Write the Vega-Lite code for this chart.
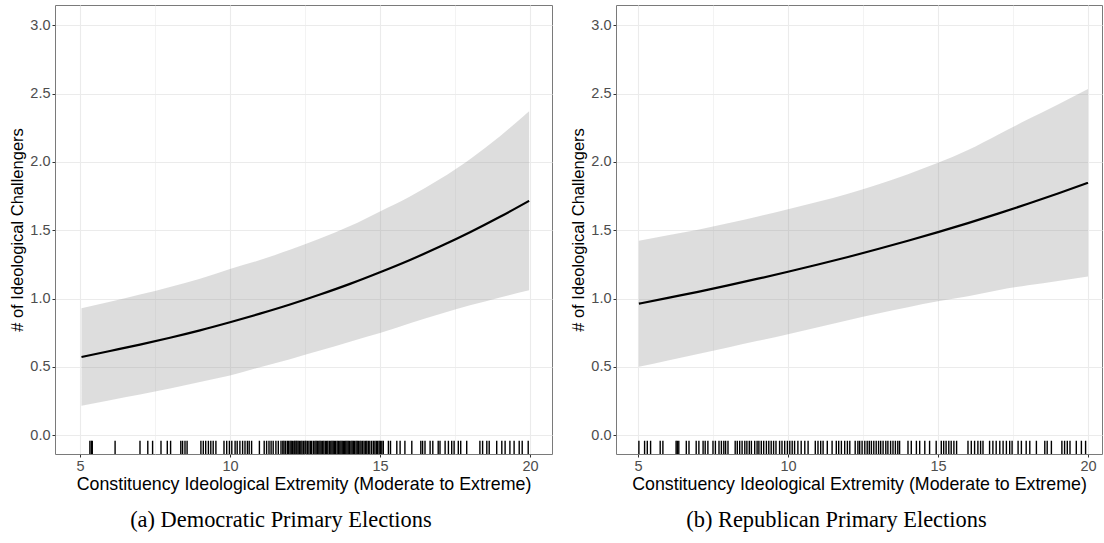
{
  "$schema": "https://vega.github.io/schema/vega-lite/v6.json",
  "padding": {"left": 9, "top": 4, "right": 0, "bottom": 0},
  "spacing": 17,
  "datasets": {
    "dem_fit": [
      {"x": 5.05, "m": 0.573, "lo": 0.217, "hi": 0.930},
      {"x": 6, "m": 0.617, "lo": 0.257, "hi": 0.977},
      {"x": 7, "m": 0.664, "lo": 0.298, "hi": 1.030},
      {"x": 8, "m": 0.714, "lo": 0.342, "hi": 1.086},
      {"x": 9, "m": 0.768, "lo": 0.390, "hi": 1.146},
      {"x": 10, "m": 0.827, "lo": 0.437, "hi": 1.217},
      {"x": 11, "m": 0.890, "lo": 0.498, "hi": 1.282},
      {"x": 12, "m": 0.957, "lo": 0.557, "hi": 1.357},
      {"x": 13, "m": 1.030, "lo": 0.620, "hi": 1.440},
      {"x": 14, "m": 1.108, "lo": 0.685, "hi": 1.531},
      {"x": 15, "m": 1.193, "lo": 0.748, "hi": 1.638},
      {"x": 16, "m": 1.283, "lo": 0.819, "hi": 1.747},
      {"x": 17, "m": 1.381, "lo": 0.887, "hi": 1.875},
      {"x": 18, "m": 1.486, "lo": 0.951, "hi": 2.021},
      {"x": 19, "m": 1.599, "lo": 1.009, "hi": 2.189},
      {"x": 19.97, "m": 1.716, "lo": 1.062, "hi": 2.372}
    ],
    "rep_fit": [
      {"x": 5.03, "m": 0.963, "lo": 0.502, "hi": 1.424},
      {"x": 6, "m": 1.006, "lo": 0.548, "hi": 1.464},
      {"x": 7, "m": 1.050, "lo": 0.595, "hi": 1.505},
      {"x": 8, "m": 1.097, "lo": 0.642, "hi": 1.552},
      {"x": 9, "m": 1.146, "lo": 0.691, "hi": 1.601},
      {"x": 10, "m": 1.197, "lo": 0.740, "hi": 1.654},
      {"x": 11, "m": 1.250, "lo": 0.791, "hi": 1.709},
      {"x": 12, "m": 1.305, "lo": 0.842, "hi": 1.768},
      {"x": 13, "m": 1.363, "lo": 0.891, "hi": 1.835},
      {"x": 14, "m": 1.424, "lo": 0.937, "hi": 1.911},
      {"x": 15, "m": 1.487, "lo": 0.980, "hi": 1.994},
      {"x": 16, "m": 1.553, "lo": 1.018, "hi": 2.088},
      {"x": 17, "m": 1.622, "lo": 1.062, "hi": 2.200},
      {"x": 18, "m": 1.694, "lo": 1.098, "hi": 2.312},
      {"x": 19, "m": 1.769, "lo": 1.130, "hi": 2.420},
      {"x": 20, "m": 1.848, "lo": 1.162, "hi": 2.534}
    ],
    "dem_rug": [
      {"x": 5.33}, {"x": 5.38}, {"x": 5.41}, {"x": 6.17}, {"x": 7.00}, {"x": 7.26}, {"x": 7.42}, {"x": 7.70}, {"x": 7.91}, {"x": 8.02},
      {"x": 8.36}, {"x": 8.42}, {"x": 8.50}, {"x": 8.57}, {"x": 9.03}, {"x": 9.11}, {"x": 9.19}, {"x": 9.28}, {"x": 9.36},
      {"x": 9.44}, {"x": 9.53}, {"x": 9.80}, {"x": 9.89}, {"x": 9.98}, {"x": 10.06}, {"x": 10.17}, {"x": 10.24}, {"x": 10.33},
      {"x": 10.42}, {"x": 10.50}, {"x": 10.58}, {"x": 10.64}, {"x": 10.72}, {"x": 10.98}, {"x": 11.14}, {"x": 11.22},
      {"x": 11.30}, {"x": 11.37}, {"x": 11.44}, {"x": 11.53}, {"x": 11.61},
      {"x": 11.70}, {"x": 11.76}, {"x": 11.80}, {"x": 11.85}, {"x": 11.91}, {"x": 11.95}, {"x": 12.00}, {"x": 12.04},
      {"x": 12.08}, {"x": 12.13}, {"x": 12.16}, {"x": 12.20}, {"x": 12.23}, {"x": 12.27}, {"x": 12.31}, {"x": 12.36},
      {"x": 12.40}, {"x": 12.45}, {"x": 12.50}, {"x": 12.53}, {"x": 12.58}, {"x": 12.63}, {"x": 12.68}, {"x": 12.72},
      {"x": 12.78}, {"x": 12.83}, {"x": 12.87}, {"x": 12.91}, {"x": 12.96}, {"x": 13.00}, {"x": 13.04}, {"x": 13.09},
      {"x": 13.13}, {"x": 13.18}, {"x": 13.22}, {"x": 13.26}, {"x": 13.31}, {"x": 13.36}, {"x": 13.40}, {"x": 13.44},
      {"x": 13.48}, {"x": 13.52}, {"x": 13.57}, {"x": 13.61}, {"x": 13.66}, {"x": 13.70}, {"x": 13.74}, {"x": 13.78},
      {"x": 13.82}, {"x": 13.86}, {"x": 13.90}, {"x": 13.94}, {"x": 13.98}, {"x": 14.03}, {"x": 14.07}, {"x": 14.11},
      {"x": 14.15}, {"x": 14.20}, {"x": 14.24}, {"x": 14.28}, {"x": 14.33}, {"x": 14.37}, {"x": 14.42}, {"x": 14.47},
      {"x": 14.52}, {"x": 14.56}, {"x": 14.61}, {"x": 14.66}, {"x": 14.72}, {"x": 14.78}, {"x": 14.83}, {"x": 14.88},
      {"x": 14.92}, {"x": 14.97}, {"x": 15.01}, {"x": 15.06}, {"x": 15.11},
      {"x": 15.28}, {"x": 15.35}, {"x": 15.56}, {"x": 15.67}, {"x": 15.83}, {"x": 16.06}, {"x": 16.36}, {"x": 16.42},
      {"x": 16.50}, {"x": 16.67}, {"x": 16.76}, {"x": 16.94}, {"x": 17.00}, {"x": 17.17}, {"x": 17.28}, {"x": 17.39},
      {"x": 17.47}, {"x": 17.61}, {"x": 17.69}, {"x": 17.89}, {"x": 18.33}, {"x": 18.42}, {"x": 18.56}, {"x": 18.64},
      {"x": 18.89}, {"x": 19.06}, {"x": 19.17}, {"x": 19.33}, {"x": 19.47}, {"x": 19.64}, {"x": 19.74}, {"x": 19.94}
    ],
    "rep_rug": [
      {"x": 5.03}, {"x": 5.22}, {"x": 5.31}, {"x": 5.42}, {"x": 5.74}, {"x": 5.83}, {"x": 6.27}, {"x": 6.31}, {"x": 6.36},
      {"x": 6.61}, {"x": 6.70}, {"x": 6.94}, {"x": 7.03}, {"x": 7.17}, {"x": 7.24}, {"x": 7.33}, {"x": 7.50}, {"x": 7.58},
      {"x": 7.70}, {"x": 7.78}, {"x": 7.86}, {"x": 7.92}, {"x": 8.00}, {"x": 8.24}, {"x": 8.31}, {"x": 8.39}, {"x": 8.47},
      {"x": 8.56}, {"x": 8.63}, {"x": 8.71}, {"x": 8.78}, {"x": 8.89}, {"x": 8.97}, {"x": 9.03}, {"x": 9.11}, {"x": 9.19},
      {"x": 9.28}, {"x": 9.36}, {"x": 9.44}, {"x": 9.52}, {"x": 9.60}, {"x": 9.72}, {"x": 9.80}, {"x": 9.89}, {"x": 9.98},
      {"x": 10.06}, {"x": 10.14}, {"x": 10.22}, {"x": 10.33}, {"x": 10.44}, {"x": 10.56}, {"x": 10.67}, {"x": 10.91},
      {"x": 11.00}, {"x": 11.09}, {"x": 11.17}, {"x": 11.31}, {"x": 11.47}, {"x": 11.61}, {"x": 11.69}, {"x": 11.78},
      {"x": 11.89}, {"x": 11.98}, {"x": 12.06}, {"x": 12.24}, {"x": 12.33}, {"x": 12.39}, {"x": 12.47}, {"x": 12.56},
      {"x": 12.64}, {"x": 12.71}, {"x": 12.78}, {"x": 12.86}, {"x": 12.94}, {"x": 13.02}, {"x": 13.09}, {"x": 13.17},
      {"x": 13.26}, {"x": 13.33}, {"x": 13.42}, {"x": 13.50}, {"x": 13.58}, {"x": 13.66}, {"x": 13.72}, {"x": 14.00},
      {"x": 14.11}, {"x": 14.28}, {"x": 14.39}, {"x": 14.56}, {"x": 14.72}, {"x": 14.94}, {"x": 15.11}, {"x": 15.19},
      {"x": 15.27}, {"x": 15.36}, {"x": 15.44}, {"x": 15.53}, {"x": 15.62}, {"x": 16.00}, {"x": 16.11}, {"x": 16.22},
      {"x": 16.33}, {"x": 16.42}, {"x": 16.50}, {"x": 16.72}, {"x": 16.83}, {"x": 16.94}, {"x": 17.06}, {"x": 17.17},
      {"x": 17.28}, {"x": 17.39}, {"x": 17.47}, {"x": 17.67}, {"x": 17.78}, {"x": 17.94}, {"x": 18.06}, {"x": 18.28},
      {"x": 18.56}, {"x": 18.64}, {"x": 18.78}, {"x": 19.13}, {"x": 19.22}, {"x": 19.31}, {"x": 19.40}, {"x": 19.61},
      {"x": 19.78}, {"x": 19.92}
    ]
  },
  "hconcat": [
    {
      "width": 497,
      "height": 449,
      "title": {"text": "(a) Democratic Primary Elections"},
      "encoding": {
        "x": {
          "field": "x", "type": "quantitative",
          "scale": {"domain": [4.167, 20.733], "nice": false, "zero": false},
          "axis": {
            "title": "Constituency Ideological Extremity (Moderate to Extreme)",
            "titleFontSize": 17.8,
            "titlePadding": 3,
            "values": [5, 7.5, 10, 12.5, 15, 17.5, 20],
            "labelExpr": "datum.value % 5 === 0 ? format(datum.value, 'd') : ''",
            "tickOpacity": {"condition": {"test": "datum.value % 5 === 0", "value": 1}, "value": 0},
            "gridWidth": {"condition": {"test": "datum.value % 5 === 0", "value": 1.1}, "value": 0.6}
          }
        }
      },
      "layer": [
        {
          "data": {"name": "dem_fit"},
          "mark": {"type": "area", "color": "#999999", "opacity": 0.33, "interpolate": "monotone"},
          "encoding": {
            "y": {
              "field": "lo", "type": "quantitative",
              "scale": {"domain": [-0.137, 3.149], "nice": false, "zero": false},
              "axis": {
                "title": "# of Ideological Challengers",
                "values": [0, 0.25, 0.5, 0.75, 1, 1.25, 1.5, 1.75, 2, 2.25, 2.5, 2.75, 3],
                "labelExpr": "datum.value % 0.5 === 0 ? format(datum.value, '.1f') : ''",
                "tickOpacity": {"condition": {"test": "datum.value % 0.5 === 0", "value": 1}, "value": 0},
                "gridWidth": {"condition": {"test": "datum.value % 0.5 === 0", "value": 1.1}, "value": 0.6}
              }
            },
            "y2": {"field": "hi"}
          }
        },
        {
          "data": {"name": "dem_fit"},
          "mark": {"type": "line", "color": "black", "strokeWidth": 2.2, "interpolate": "monotone"},
          "encoding": {"y": {"field": "m", "type": "quantitative", "title": "# of Ideological Challengers"}}
        },
        {
          "data": {"name": "dem_rug"},
          "mark": {"type": "rule", "color": "black", "strokeWidth": 1.4},
          "encoding": {
            "y": {"datum": -0.137, "type": "quantitative", "title": "# of Ideological Challengers"},
            "y2": {"datum": -0.04}
          }
        }
      ]
    },
    {
      "width": 486,
      "height": 449,
      "title": {"text": "(b) Republican Primary Elections"},
      "encoding": {
        "x": {
          "field": "x", "type": "quantitative",
          "scale": {"domain": [4.267, 20.467], "nice": false, "zero": false},
          "axis": {
            "title": "Constituency Ideological Extremity (Moderate to Extreme)",
            "titleFontSize": 17.8,
            "titlePadding": 3,
            "values": [5, 7.5, 10, 12.5, 15, 17.5, 20],
            "labelExpr": "datum.value % 5 === 0 ? format(datum.value, 'd') : ''",
            "tickOpacity": {"condition": {"test": "datum.value % 5 === 0", "value": 1}, "value": 0},
            "gridWidth": {"condition": {"test": "datum.value % 5 === 0", "value": 1.1}, "value": 0.6}
          }
        }
      },
      "layer": [
        {
          "data": {"name": "rep_fit"},
          "mark": {"type": "area", "color": "#999999", "opacity": 0.33, "interpolate": "monotone"},
          "encoding": {
            "y": {
              "field": "lo", "type": "quantitative",
              "scale": {"domain": [-0.137, 3.149], "nice": false, "zero": false},
              "axis": {
                "title": "# of Ideological Challengers",
                "values": [0, 0.25, 0.5, 0.75, 1, 1.25, 1.5, 1.75, 2, 2.25, 2.5, 2.75, 3],
                "labelExpr": "datum.value % 0.5 === 0 ? format(datum.value, '.1f') : ''",
                "tickOpacity": {"condition": {"test": "datum.value % 0.5 === 0", "value": 1}, "value": 0},
                "gridWidth": {"condition": {"test": "datum.value % 0.5 === 0", "value": 1.1}, "value": 0.6}
              }
            },
            "y2": {"field": "hi"}
          }
        },
        {
          "data": {"name": "rep_fit"},
          "mark": {"type": "line", "color": "black", "strokeWidth": 2.2, "interpolate": "monotone"},
          "encoding": {"y": {"field": "m", "type": "quantitative", "title": "# of Ideological Challengers"}}
        },
        {
          "data": {"name": "rep_rug"},
          "mark": {"type": "rule", "color": "black", "strokeWidth": 1.4},
          "encoding": {
            "y": {"datum": -0.137, "type": "quantitative", "title": "# of Ideological Challengers"},
            "y2": {"datum": -0.04}
          }
        }
      ]
    }
  ],
  "config": {
    "background": "white",
    "view": {"stroke": "#7a7a7a", "strokeWidth": 1},
    "axis": {
      "domain": false,
      "grid": true,
      "gridColor": "#ebebeb",
      "tickColor": "#333333",
      "tickSize": 3,
      "tickWidth": 1,
      "labelColor": "#4d4d4d",
      "labelFont": "Liberation Sans",
      "labelFontSize": 14.5,
      "labelPadding": 2,
      "titleFont": "Liberation Sans",
      "titleFontSize": 16.5,
      "titleFontWeight": "normal",
      "titleColor": "black",
      "titlePadding": 4
    },
    "title": {
      "orient": "bottom",
      "anchor": "middle",
      "frame": "bounds",
      "font": "Liberation Serif",
      "fontSize": 22.4,
      "fontWeight": "normal",
      "color": "black",
      "offset": 16
    }
  }
}
